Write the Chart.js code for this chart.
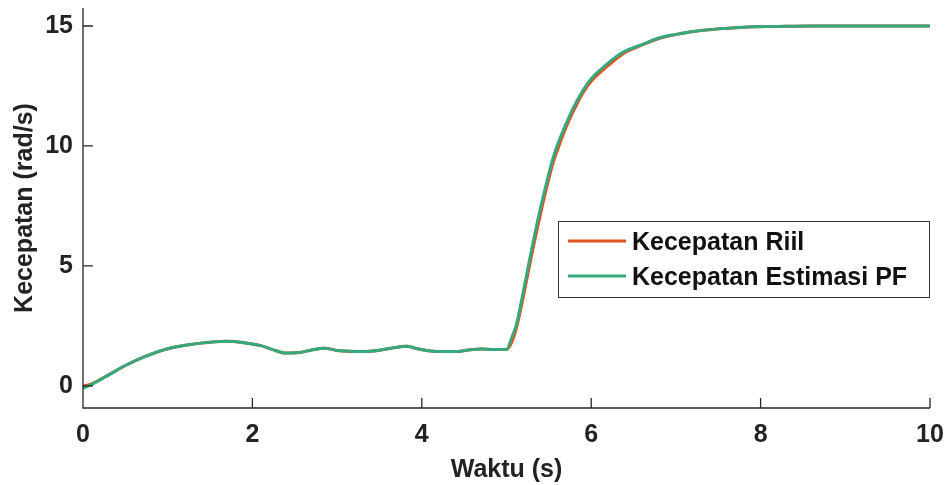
<!DOCTYPE html>
<html>
<head>
<meta charset="utf-8">
<script src="https://cdn.jsdelivr.net/npm/chart.js@4/dist/chart.umd.min.js"></script>
<style>
  html, body { margin: 0; padding: 0; background: #fff; }
  #wrap { width: 948px; height: 485px; }
</style>
</head>
<body>
<div id="wrap"><canvas id="grafik" width="948" height="485"></canvas></div>
<script>
// waktu (s)
const waktu = [0, 0.1, 0.2, 0.3, 0.5, 0.75, 1.0, 1.25, 1.5, 1.7, 1.9, 2.1, 2.25, 2.4, 2.55, 2.7, 2.85, 3.0, 3.15, 3.3,
  3.5, 3.65, 3.82, 3.95, 4.1, 4.25, 4.4, 4.55, 4.7, 4.85, 5.0, 5.06, 5.12, 5.18, 5.24, 5.3, 5.36, 5.42, 5.48, 5.55,
  5.63, 5.7, 5.79, 5.9, 6.0, 6.1, 6.25, 6.4, 6.58, 6.8, 7.0, 7.2, 7.5, 7.8, 8.2, 8.6, 9.0, 9.5, 10];

const kecepatanRiil = [0.0, 0.08, 0.26, 0.46, 0.85, 1.25, 1.55, 1.72, 1.82, 1.86, 1.8, 1.68, 1.5, 1.37, 1.39, 1.5, 1.57, 1.48, 1.44, 1.43,
  1.49, 1.58, 1.65, 1.55, 1.46, 1.43, 1.43, 1.5, 1.54, 1.52, 1.52, 1.8, 2.45, 3.4, 4.45, 5.5, 6.5, 7.45, 8.35, 9.3,
  10.1, 10.75, 11.45, 12.2, 12.7, 13.05, 13.5, 13.9, 14.18, 14.48, 14.64, 14.77, 14.88, 14.95, 14.98, 15.0, 15.0, 15.0, 15.0];

const kecepatanEstimasi = [-0.1, 0.05, 0.25, 0.45, 0.85, 1.25, 1.55, 1.72, 1.82, 1.86, 1.8, 1.68, 1.5, 1.37, 1.39, 1.5, 1.57, 1.48, 1.44, 1.43,
  1.49, 1.58, 1.65, 1.55, 1.46, 1.43, 1.43, 1.5, 1.54, 1.52, 1.52, 2.0, 2.6, 3.6, 4.68, 5.75, 6.77, 7.7, 8.57, 9.5,
  10.3, 10.9, 11.6, 12.3, 12.8, 13.15, 13.6, 13.95, 14.2, 14.5, 14.65, 14.77, 14.88, 14.95, 14.98, 15.0, 15.0, 15.0, 15.0];

const tickX = [0, 2, 4, 6, 8, 10];
const tickY = [0, 5, 10, 15];

const warnaRiil = '#e4521f';
const warnaEstimasi = '#35a87c';
const fontTebal = { family: '"Liberation Sans", Arial, sans-serif', size: 25, weight: 'bold' };

function titik(arr) {
  return waktu.map((t, i) => ({ x: t, y: arr[i] }));
}

// tick ke dalam + legenda di dalam area plot
const pluginSumbu = {
  id: 'pluginSumbu',
  afterDraw(chart) {
    const { ctx, chartArea: a, scales } = chart;
    ctx.save();
    ctx.strokeStyle = '#262626';
    ctx.lineWidth = 1.3;
    ctx.beginPath();
    ctx.moveTo(a.left, a.top);
    ctx.lineTo(a.left, a.bottom);
    ctx.lineTo(a.right, a.bottom);
    tickX.forEach(v => {
      const px = scales.x.getPixelForValue(v);
      ctx.moveTo(px, a.bottom);
      ctx.lineTo(px, a.bottom - 10);
    });
    tickY.forEach(v => {
      const py = scales.y.getPixelForValue(v);
      ctx.moveTo(a.left, py);
      ctx.lineTo(a.left + 10, py);
    });
    ctx.stroke();

    // legenda
    const lx = 558, ly = 221, lw = 371, lh = 76;
    ctx.fillStyle = '#fff';
    ctx.fillRect(lx, ly, lw, lh);
    ctx.strokeStyle = '#333';
    ctx.lineWidth = 1;
    ctx.strokeRect(lx + 0.5, ly + 0.5, lw, lh);
    ctx.font = 'bold 25px "Liberation Sans", Arial, sans-serif';
    ctx.textBaseline = 'middle';
    chart.data.datasets.forEach((ds, i) => {
      const y = ly + 20 + i * 35;
      ctx.strokeStyle = ds.borderColor;
      ctx.lineWidth = 3;
      ctx.beginPath();
      ctx.moveTo(lx + 10, y);
      ctx.lineTo(lx + 68, y);
      ctx.stroke();
      ctx.fillStyle = '#111';
      ctx.fillText(ds.label, lx + 74, y + 2);
    });
    ctx.restore();
  }
};

new Chart(document.getElementById('grafik').getContext('2d'), {
  type: 'line',
  data: {
    datasets: [
      {
        label: 'Kecepatan Riil',
        data: titik(kecepatanRiil),
        borderColor: warnaRiil,
        borderWidth: 3,
        pointRadius: 0,
        order: 2,
        cubicInterpolationMode: 'monotone'
      },
      {
        label: 'Kecepatan Estimasi PF',
        data: titik(kecepatanEstimasi),
        borderColor: warnaEstimasi,
        borderWidth: 3,
        pointRadius: 0,
        order: 1,
        cubicInterpolationMode: 'monotone'
      }
    ]
  },
  options: {
    responsive: false,
    animation: false,
    layout: { padding: { top: 8, right: 18, left: 0, bottom: 0 } },
    plugins: { legend: { display: false }, tooltip: { enabled: false } },
    scales: {
      x: {
        type: 'linear',
        min: 0,
        max: 10,
        afterBuildTicks: s => { s.ticks = tickX.map(v => ({ value: v })); },
        afterFit: s => { s.height = 77; s.paddingLeft = 0; s.paddingRight = 0; },
        grid: { display: false },
        border: { display: false },
        ticks: { color: '#222', font: fontTebal, padding: 4, maxRotation: 0 },
        title: { display: true, text: 'Waktu (s)', color: '#222', font: fontTebal, padding: { top: 0, bottom: 0 } }
      },
      y: {
        min: -0.92,
        max: 15.75,
        afterBuildTicks: s => { s.ticks = tickY.map(v => ({ value: v })); },
        afterFit: s => { s.width = 83; s.paddingTop = 0; s.paddingBottom = 0; },
        grid: { display: false },
        border: { display: false },
        ticks: { color: '#222', font: fontTebal, padding: 2 },
        title: { display: true, text: 'Kecepatan (rad/s)', color: '#222', font: fontTebal, padding: { top: 10, bottom: 0 } }
      }
    }
  },
  plugins: [pluginSumbu]
});
</script>
</body>
</html>
